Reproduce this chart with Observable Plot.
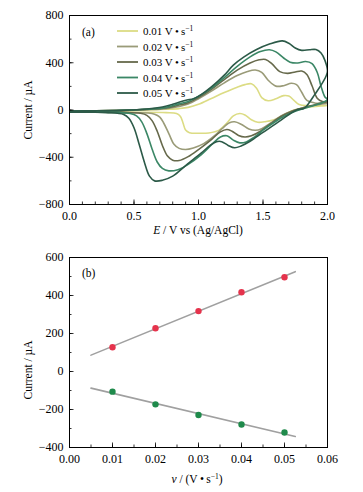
<!DOCTYPE html>
<html><head><meta charset="utf-8">
<script src="https://cdn.jsdelivr.net/npm/d3@7"></script>
<script src="https://cdn.jsdelivr.net/npm/@observablehq/plot@0.6"></script>
<style>body{margin:0;background:#fff;} #chart svg{display:block;}</style>
</head><body><div id="chart"></div>
<script>
// ---------- Panel (a) data: cyclic voltammograms [E (V), I (µA)] forward then reverse ----------
const scanRates = ["0.01", "0.02", "0.03", "0.04", "0.05"];
const lineColors = ["#dcdc84", "#9a9b78", "#66694b", "#3b8766", "#2c5a48"];

const cv001 = [[0,-8],[0.2,-7],[0.4,-5],[0.6,0],[0.75,6],[0.85,12],[0.92,22],[1.0,48],[1.1,98],[1.2,148],[1.3,193],[1.36,215],[1.41,222],[1.45,185],[1.49,105],[1.54,78],[1.6,95],[1.66,122],[1.7,118],[1.74,82],[1.78,46],[1.85,36],[1.93,36],[2.0,38],
  [1.95,35],[1.88,28],[1.8,14],[1.74,0],[1.66,-42],[1.58,-85],[1.51,-100],[1.46,-104],[1.41,-82],[1.36,-42],[1.32,-30],[1.27,-50],[1.22,-110],[1.16,-170],[1.08,-194],[1.0,-197],[0.93,-192],[0.9,-170],[0.88,-110],[0.86,-55],[0.83,-30],[0.75,-22],[0.5,-19],[0.25,-18],[0,-18]];
const cv002 = [[0,-8],[0.2,-7],[0.4,-4],[0.6,3],[0.75,12],[0.85,30],[0.92,50],[1.0,95],[1.1,160],[1.2,230],[1.3,292],[1.38,326],[1.44,338],[1.49,318],[1.54,252],[1.6,202],[1.66,206],[1.72,226],[1.76,214],[1.8,150],[1.84,82],[1.9,60],[2.0,56],
  [1.95,50],[1.88,36],[1.8,16],[1.72,-10],[1.64,-50],[1.56,-110],[1.49,-158],[1.44,-172],[1.39,-160],[1.33,-120],[1.28,-100],[1.24,-108],[1.18,-160],[1.12,-222],[1.04,-285],[0.96,-322],[0.9,-335],[0.85,-325],[0.81,-290],[0.77,-200],[0.73,-110],[0.7,-60],[0.66,-35],[0.6,-25],[0.4,-20],[0.2,-18],[0,-18]];
const cv003 = [[0,-8],[0.2,-7],[0.4,-3],[0.6,5],[0.75,18],[0.85,42],[0.92,62],[1.0,105],[1.1,175],[1.2,258],[1.3,338],[1.4,398],[1.47,425],[1.52,428],[1.57,390],[1.63,325],[1.69,310],[1.75,322],[1.8,330],[1.84,300],[1.88,205],[1.92,100],[1.96,72],[2.0,68],
  [1.95,58],[1.88,38],[1.8,15],[1.72,-12],[1.64,-55],[1.56,-115],[1.48,-180],[1.41,-218],[1.36,-228],[1.31,-215],[1.26,-180],[1.22,-165],[1.17,-185],[1.1,-250],[1.0,-335],[0.92,-395],[0.85,-428],[0.8,-425],[0.76,-390],[0.72,-300],[0.68,-180],[0.64,-90],[0.6,-45],[0.55,-28],[0.4,-20],[0.2,-18],[0,-18]];
const cv004 = [[0,-8],[0.2,-7],[0.4,-3],[0.6,6],[0.75,22],[0.85,52],[0.92,72],[1.0,115],[1.1,185],[1.2,275],[1.3,370],[1.4,450],[1.48,495],[1.55,510],[1.6,492],[1.66,440],[1.71,405],[1.77,398],[1.83,410],[1.88,392],[1.92,320],[1.95,200],[1.98,110],[2.0,90],
  [1.96,62],[1.9,40],[1.82,14],[1.74,-15],[1.66,-55],[1.58,-110],[1.5,-170],[1.43,-232],[1.37,-270],[1.32,-278],[1.27,-255],[1.22,-218],[1.17,-228],[1.11,-285],[1.02,-380],[0.92,-460],[0.84,-505],[0.77,-515],[0.72,-495],[0.68,-440],[0.64,-330],[0.6,-200],[0.56,-100],[0.52,-50],[0.47,-30],[0.35,-21],[0.2,-18],[0,-18]];
const cv005 = [[0,-8],[0.2,-7],[0.4,-3],[0.6,8],[0.72,25],[0.8,48],[0.86,70],[0.91,85],[0.96,95],[1.02,130],[1.1,195],[1.2,295],[1.27,380],[1.35,448],[1.45,512],[1.55,558],[1.65,585],[1.7,565],[1.75,525],[1.8,505],[1.86,510],[1.91,512],[1.95,482],[1.98,420],[2.0,330],
  [1.99,290],[1.95,210],[1.9,130],[1.86,65],[1.82,15],[1.76,0],[1.64,-85],[1.5,-190],[1.4,-265],[1.33,-305],[1.28,-320],[1.23,-300],[1.18,-268],[1.14,-268],[1.09,-300],[1.02,-365],[0.9,-470],[0.8,-560],[0.72,-595],[0.66,-600],[0.62,-560],[0.58,-440],[0.54,-290],[0.5,-150],[0.46,-70],[0.42,-38],[0.3,-22],[0.15,-19],[0,-18]];

const xMajorA = [0, 0.5, 1.0, 1.5, 2.0];
const xMinorA = d3.range(0, 2.0001, 0.1);
const yMajorA = [-800, -400, 0, 400, 800];
const yMinorA = d3.range(-800, 801, 200);

// ---------- Panel (b) data: peak current vs scan rate ----------
const scanRateValues = [0.01, 0.02, 0.03, 0.04, 0.05];
const anodicPeak = [128, 228, 318, 417, 496];
const cathodicPeak = [-106, -173, -229, -279, -321];
const fitRange = [0.005, 0.0525];
const xMajorB = [0, 0.01, 0.02, 0.03, 0.04, 0.05, 0.06];
const xMinorB = d3.range(0, 0.06001, 0.005);
const yMajorB = [-400, -200, 0, 200, 400, 600];
const yMinorB = d3.range(-400, 601, 100);

// ---------- build ----------
const font = "'Liberation Serif', 'Times New Roman', serif";
const W = 363;
const cvAll = [cv001, cv002, cv003, cv004, cv005];
const cvRows = cvAll.flatMap((pts, k) => pts.map(([E, I], i) => ({rate: scanRates[k], E, I, i})));

const intFmt = d3.format("d");

function ticksMarks(xMaj, xMin, yMaj, yMin, ph, pw) {
  return [
    Plot.tickX(xMin, {x: d => d, insetTop: ph - 2.5, stroke: "black", strokeWidth: 0.8}),
    Plot.tickX(xMaj, {x: d => d, insetTop: ph - 4.5, stroke: "black", strokeWidth: 0.8}),
    Plot.tickY(yMin, {y: d => d, insetRight: pw - 2.5, stroke: "black", strokeWidth: 0.8}),
    Plot.tickY(yMaj, {y: d => d, insetRight: pw - 4.5, stroke: "black", strokeWidth: 0.8})
  ];
}

const hA = 240, mtA = 15, mbA = 36, mlA = 69, mrA = 36;
const phA = hA - mtA - mbA, pw = W - mlA - mrA;
const plotA = Plot.plot({
  width: W, height: hA, marginLeft: mlA, marginRight: mrA, marginTop: mtA, marginBottom: mbA,
  style: {fontFamily: font, fontSize: "12px", background: "white", color: "black", overflow: "visible"},
  x: {domain: [0, 2]},
  y: {domain: [-800, 800]},
  color: {domain: scanRates, range: lineColors},
  marks: [
    Plot.line(cvRows, {x: "E", y: "I", z: "rate", stroke: "rate", strokeWidth: 1.6, curve: "catmull-rom", clip: true}),
    ...ticksMarks(xMajorA, xMinorA, yMajorA, yMinorA, phA, pw),
    Plot.axisX({ticks: xMajorA, tickSize: 0, tickPadding: 7, tickFormat: d3.format(".1f"), label: null}),
    Plot.axisY({ticks: yMajorA, tickSize: 0, tickPadding: 6, tickFormat: intFmt, label: null}),
    Plot.frame({stroke: "black", strokeWidth: 1})
  ]
});

const fitLine = (ys) => {
  const mx = d3.mean(scanRateValues), my = d3.mean(ys);
  const sxy = d3.sum(scanRateValues, (x, i) => (x - mx) * (ys[i] - my));
  const sxx = d3.sum(scanRateValues, x => (x - mx) ** 2);
  const b = sxy / sxx, a = my - b * mx;
  return fitRange.map(x => ({x, y: a + b * x}));
};
const ptsB = scanRateValues.flatMap((x, i) => [{x, y: anodicPeak[i], kind: "anodic"}, {x, y: cathodicPeak[i], kind: "cathodic"}]);
const fitRows = [...fitLine(anodicPeak).map(d => ({...d, kind: "anodic"})), ...fitLine(cathodicPeak).map(d => ({...d, kind: "cathodic"}))];

const hB = 252, mtB = 17, mbB = 45;
const phB = hB - mtB - mbB;
const plotB = Plot.plot({
  width: W, height: hB, marginLeft: mlA, marginRight: mrA, marginTop: mtB, marginBottom: mbB,
  style: {fontFamily: font, fontSize: "12px", background: "white", color: "black", overflow: "visible"},
  x: {domain: [0, 0.06]},
  y: {domain: [-400, 600]},
  color: {domain: ["anodic", "cathodic"], range: ["#e5334c", "#1f8a4b"]},
  marks: [
    Plot.line(fitRows, {x: "x", y: "y", z: "kind", stroke: "#a0a0a0", strokeWidth: 1.6}),
    Plot.dot(ptsB, {x: "x", y: "y", fill: "kind", r: 3.2}),
    ...ticksMarks(xMajorB, xMinorB, yMajorB, yMinorB, phB, pw),
    Plot.axisX({ticks: xMajorB, tickSize: 0, tickPadding: 7, tickFormat: d3.format(".2f"), label: null}),
    Plot.axisY({ticks: yMajorB, tickSize: 0, tickPadding: 6, tickFormat: intFmt, label: null}),
    Plot.frame({stroke: "black", strokeWidth: 1})
  ]
});

// ---------- annotations ----------
function addYTitle(svg, cy) {
  svg.append("text").attr("transform", `translate(32,${cy}) rotate(-90)`)
    .attr("text-anchor", "middle").attr("font-family", font).attr("font-size", 11.5).attr("fill", "black")
    .text("Current / µA");
}
const sA = d3.select(plotA);
addYTitle(sA, 110);
const tA = sA.append("text").attr("x", 198).attr("y", 234).attr("text-anchor", "middle")
  .attr("font-family", font).attr("font-size", 11.5).attr("fill", "black");
tA.append("tspan").attr("font-style", "italic").text("E");
tA.append("tspan").text(" / V vs (Ag/AgCl)");
sA.append("text").attr("x", 82).attr("y", 36).attr("text-anchor", "start").attr("font-family", font).attr("font-size", 11.5).text("(a)");

const leg = sA.append("g");
scanRates.forEach((r, k) => {
  const y = 31 + k * 15.5;
  leg.append("line").attr("x1", 117).attr("x2", 138).attr("y1", y).attr("y2", y)
    .attr("stroke", lineColors[k]).attr("stroke-width", 1.8);
  const t = leg.append("text").attr("x", 143).attr("y", y + 4).attr("text-anchor", "start").attr("font-family", font)
    .attr("font-size", 11).attr("fill", "black");
  t.append("tspan").text(`${r} V\u2009\u2022\u2009s`);
  t.append("tspan").attr("dy", -4).attr("font-size", 7.5).text("\u22121");
});

const sB = d3.select(plotB);
addYTitle(sB, 130);
const tB = sB.append("text").attr("x", 197).attr("y", 243).attr("text-anchor", "middle")
  .attr("font-family", font).attr("font-size", 11.5).attr("fill", "black");
tB.append("tspan").attr("font-style", "italic").text("v");
tB.append("tspan").text(" / (V\u2009\u2022\u2009s");
tB.append("tspan").attr("dy", -4).attr("font-size", 7.5).text("\u22121");
tB.append("tspan").attr("dy", 4).text(")");
sB.append("text").attr("x", 82).attr("y", 37).attr("text-anchor", "start").attr("font-family", font).attr("font-size", 11.5).text("(b)");

document.getElementById("chart").append(plotA, plotB);
</script></body></html>
